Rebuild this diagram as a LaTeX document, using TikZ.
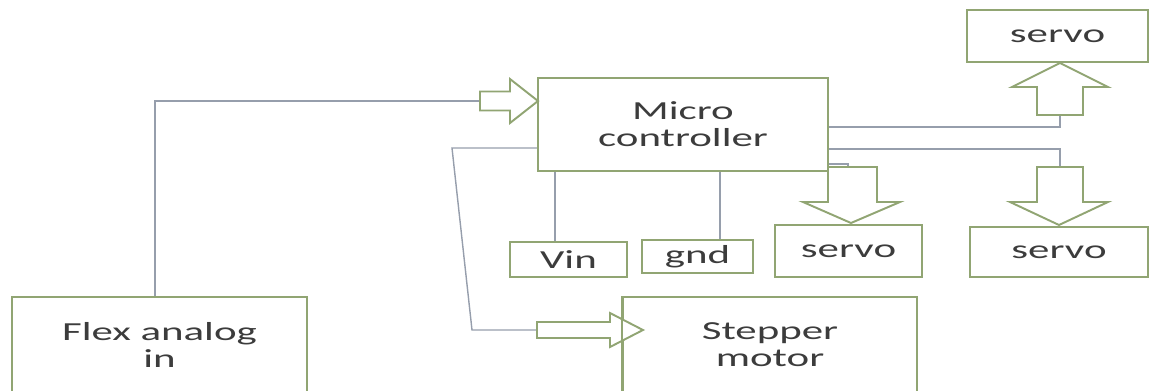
\documentclass[tikz,border=0pt]{standalone}
\usepackage{fontspec}
\setmainfont{Carlito}
\usepackage{graphicx}
\definecolor{boxgreen}{RGB}{145,165,115}
\definecolor{wiregrey}{RGB}{150,158,172}
\definecolor{inkgrey}{RGB}{60,60,60}
\newcommand{\wide}[1]{\scalebox{1.65}[1]{#1}}
\tikzset{
  box/.style={draw=boxgreen, line width=1.1pt, align=center, text=inkgrey,
    font=\fontsize{14.8}{15.4}\selectfont, inner sep=0pt},
  wire/.style={draw=wiregrey, line width=0.8pt},
  arr/.style={draw=boxgreen, line width=1.1pt, fill=white, line join=miter},
}

\begin{document}
\begin{tikzpicture}[x=0.02cm, y=-0.02cm]
    \useasboundingbox (0,0) rectangle (1149,390);

    % Arrow tails
    \coordinate (inTail) at (480,101);
    \coordinate (stepTail) at (537,330);
    \coordinate (upTail) at (1060,115);
    \coordinate (downTail) at (1060,167);

    % Boxes
    \node[box, minimum width=5.8cm, minimum height=1.86cm] (micro) at (683,124.5) {\wide{Micro}\\\wide{controller}};
    \node[box, minimum width=3.62cm, minimum height=1.04cm] (servoTop) at (1057.5,36) {\wide{servo}};
    \node[box, minimum width=2.34cm, minimum height=0.7cm] (vin) at (568.5,259.5) {\wide{Vin}};
    \node[box, minimum width=2.22cm, minimum height=0.66cm] (gnd) at (697.5,256.5) {\wide{gnd}};
    \node[box, minimum width=2.94cm, minimum height=1.04cm] (servoMid) at (848.5,251) {\wide{servo}};
    \node[box, minimum width=3.56cm, minimum height=1.0cm] (servoRight) at (1059,252) {\wide{servo}};
    \node[box, minimum width=5.9cm, minimum height=1.92cm] (flex) at (159.5,345) {\wide{Flex analog}\\\wide{in}};
    \node[box, minimum width=5.88cm, minimum height=1.92cm] (stepper) at (770,345) {\wide{Stepper}\\\wide{motor}};

    % Wires
    \draw[wire] ([xshift=-0.09cm]flex.north) |- (inTail);
    \draw[wire] (micro.west |- 0,148) -- (452,148) -- (472,330) -- (stepTail);
    \draw[wire] (micro.south -| 555,0) -- (vin.north -| 555,0);
    \draw[wire] (micro.south -| 720,0) -- (gnd.north -| 720,0);
    \draw[wire] (micro.east |- 0,127) -| (upTail);
    \draw[wire] (micro.east |- 0,149) -| (downTail);
    \draw[wire] (micro.east |- 0,164) -| (848,167);

    % Block arrows
    \draw[arr] (inTail) ++(0,-9.5) -- (510,91.5) -- (510,79) -- (538,101) -- (510,123) -- (510,110.5) -- (480,110.5) -- cycle;
    \draw[arr] (537,322) -- (610,322) -- (610,313) -- (643,330) -- (610,347) -- (610,338) -- (537,338) -- cycle;
    \draw[arr] (1037,115) -- (1037,87) -- (1012,87) -- (1060,63) -- (1108,87) -- (1083,87) -- (1083,115) -- cycle;
    \draw[arr] (1037,167) -- (1037,202) -- (1010,202) -- (1059,225) -- (1108,202) -- (1083,202) -- (1083,167) -- cycle;
    \draw[arr] (828,167) -- (828,202) -- (803,202) -- (851,223) -- (900,202) -- (877,202) -- (877,167) -- cycle;

    % Stepper edge over its arrow
    \draw[boxgreen, line width=1.1pt] (stepper.north west) -- (stepper.south west);
\end{tikzpicture}
\end{document}
